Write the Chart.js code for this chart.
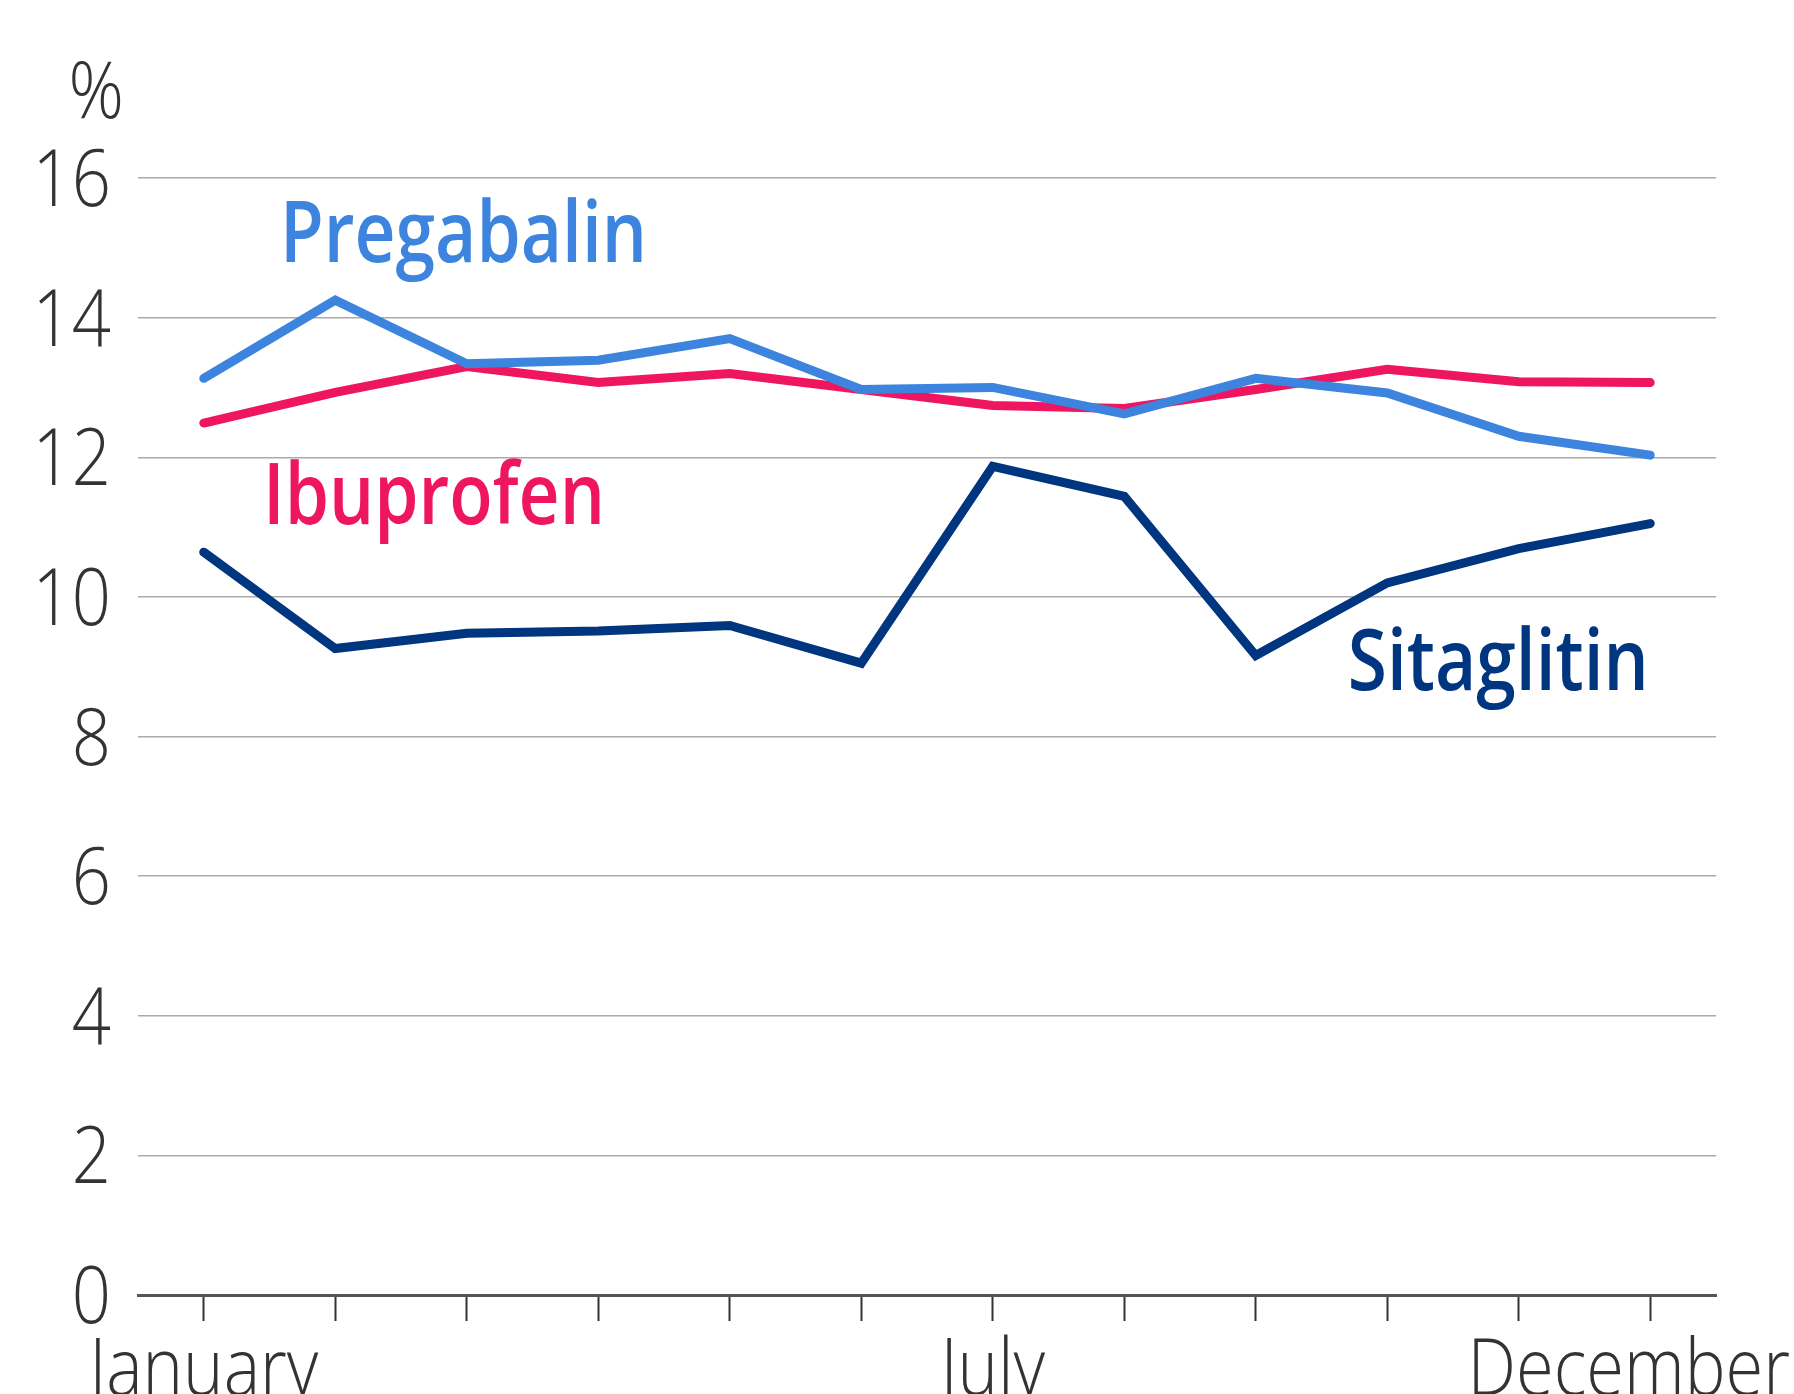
<!DOCTYPE html>
<html>
<head>
<meta charset="utf-8">
<script src="https://cdn.jsdelivr.net/npm/chart.js@4"></script>
<style>
  html, body { margin: 0; padding: 0; background: #fff; }
  canvas { display: block; }
</style>
</head>
<body>
<canvas id="drugChart" width="1794" height="1394"></canvas>
<script>
const months = ['January', 'February', 'March', 'April', 'May', 'June',
    'July', 'August', 'September', 'October', 'November', 'December'];
const shownMonths = ['January', 'July', 'December'];
const yTicks = [0, 2, 4, 6, 8, 10, 12, 14, 16];

const pregabalin = [13.13, 14.25, 13.34, 13.39, 13.70, 12.97, 13.00, 12.62, 13.13, 12.92, 12.30, 12.03];
const ibuprofen  = [12.49, 12.93, 13.30, 13.07, 13.20, 12.97, 12.74, 12.70, 12.97, 13.26, 13.08, 13.07];
const sitaglitin = [10.64, 9.26, 9.48, 9.51, 9.59, 9.05, 11.87, 11.44, 9.16, 10.20, 10.69, 11.05];

const textColor = '#333333';
const tickFont = "300 80px 'Open Sans', Lato, sans-serif";
const nameFont = "600 85px 'Open Sans', Lato, sans-serif";

// series names written on the plot, placed in data units
const seriesLabels = [
    { text: 'Pregabalin', color: '#3d84de', at: 0.58, value: 14.79 },
    { text: 'Ibuprofen', color: '#ee1660', at: 0.45, value: 11.05 },
    { text: 'Sitaglitin', color: '#003580', at: 8.70, value: 8.67 }
];

// narrow the text a bit, the installed fonts are wider than the original one
function squeezed(ctx, text, x, y, align, k) {
    ctx.save();
    ctx.translate(x, y);
    ctx.scale(k, 1);
    ctx.textAlign = align;
    ctx.fillText(text, 0, 0);
    ctx.restore();
}

const labelPlugin = {
    id: 'labelPlugin',
    afterDraw(chart) {
        const ctx = chart.ctx;
        const x = chart.scales.x;
        const y = chart.scales.y;
        ctx.save();
        ctx.textBaseline = 'alphabetic';

        // axis labels
        ctx.font = tickFont;
        ctx.fillStyle = textColor;
        const k = 229 / ctx.measureText('January').width;
        yTicks.forEach(function (v) {
            squeezed(ctx, String(v), 111, y.getPixelForValue(v) + 28, 'right', k);
        });
        months.forEach(function (m, i) {
            if (!shownMonths.includes(m)) return;
            const w = ctx.measureText(m).width * k;
            let px = x.getPixelForTick(i);
            px = Math.min(px, chart.width - 4 - w / 2);
            squeezed(ctx, m, px, 1395, 'center', k);
        });
        squeezed(ctx, '%', 124, 118, 'right', k);

        // series names
        ctx.font = nameFont;
        const kn = 367 / ctx.measureText('Pregabalin').width;
        const step = x.getPixelForValue(1) - x.getPixelForValue(0);
        seriesLabels.forEach(function (l) {
            ctx.fillStyle = l.color;
            squeezed(ctx, l.text, x.getPixelForValue(0) + l.at * step, y.getPixelForValue(l.value), 'left', kn);
        });
        ctx.restore();
    }
};

function lineSet(label, data, color) {
    return {
        label: label,
        data: data,
        borderColor: color,
        backgroundColor: color,
        borderWidth: 9,
        pointRadius: 0,
        borderCapStyle: 'round',
        borderJoinStyle: 'miter',
        tension: 0,
        fill: false
    };
}

const ctx = document.getElementById('drugChart').getContext('2d');
new Chart(ctx, {
    type: 'line',
    data: {
        labels: months,
        datasets: [
            lineSet('Pregabalin', pregabalin, '#3d84de'),
            lineSet('Ibuprofen', ibuprofen, '#ee1660'),
            lineSet('Sitaglitin', sitaglitin, '#003580')
        ]
    },
    options: {
        responsive: false,
        animation: false,
        layout: { padding: { top: 178, right: 78, left: 0, bottom: 0 } },
        plugins: {
            legend: { display: false },
            tooltip: { enabled: false }
        },
        scales: {
            x: {
                offset: true,
                grid: {
                    drawOnChartArea: false,
                    drawTicks: true,
                    tickLength: 26,
                    tickColor: textColor,
                    tickWidth: 2
                },
                border: { display: true, color: '#555555', width: 3 },
                ticks: { display: false, autoSkip: false },
                afterFit: function (scale) {
                    scale.height = 99;
                    scale.paddingLeft = 0;
                    scale.paddingRight = 0;
                }
            },
            y: {
                min: 0,
                max: 16,
                grid: { color: '#aaaaaa', lineWidth: 1.5, drawTicks: false },
                border: { display: false },
                ticks: { display: false, stepSize: 2 },
                afterFit: function (scale) {
                    scale.width = 138;
                    scale.paddingTop = 0;
                    scale.paddingBottom = 0;
                }
            }
        }
    },
    plugins: [labelPlugin]
});
</script>
</body>
</html>
